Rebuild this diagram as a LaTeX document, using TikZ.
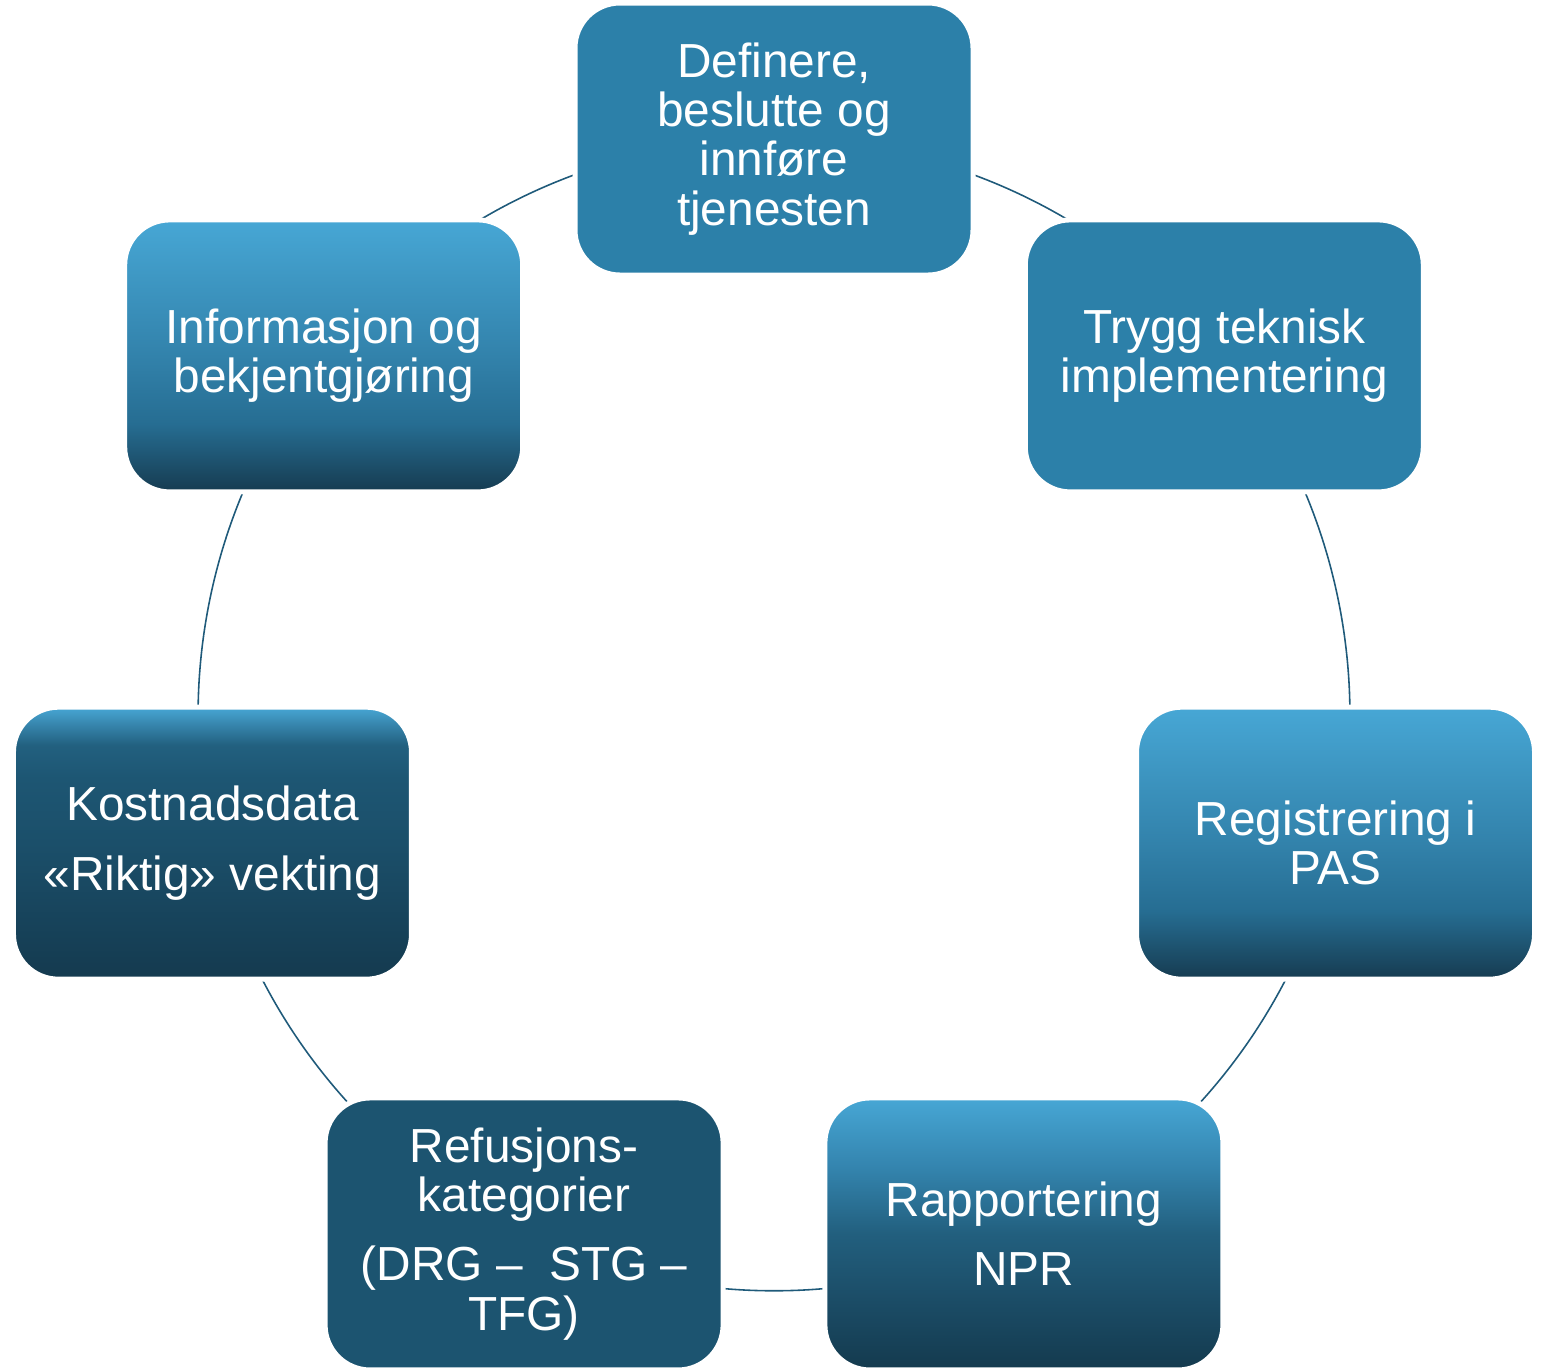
\documentclass[tikz,border=0pt]{standalone}
\usepackage{fontspec}
\setmainfont{Liberation Sans}
\usepackage{tikz}
\usetikzlibrary{backgrounds}

\definecolor{boxsolid}{HTML}{2C80A9}
\definecolor{boxdeep}{HTML}{1C5470}
\definecolor{ringline}{HTML}{1F5A7A}
\definecolor{fadetop}{HTML}{47A7D5}
% slow fade
\definecolor{slowa}{HTML}{163B50}
\definecolor{slowb}{HTML}{266D92}
\definecolor{slowc}{HTML}{3282AB}
% medium fade
\definecolor{mida}{HTML}{143A4E}
\definecolor{midb}{HTML}{1B4C66}
\definecolor{midc}{HTML}{225F7E}
\definecolor{midd}{HTML}{3485AF}
% fast fade
\definecolor{fasta}{HTML}{143A4F}
\definecolor{fastb}{HTML}{1B4F6A}
\definecolor{fastc}{HTML}{1D5673}
\definecolor{fastd}{HTML}{22607F}
\definecolor{faste}{HTML}{3887AF}

\pgfdeclareverticalshading{fadeslow}{100bp}{color(0bp)=(slowa); color(25bp)=(slowa); color(37.5bp)=(slowb); color(50bp)=(slowc); color(75bp)=(fadetop); color(100bp)=(fadetop)}
\pgfdeclareverticalshading{fademid}{100bp}{color(0bp)=(mida); color(25bp)=(mida); color(37.5bp)=(midb); color(50bp)=(midc); color(62.5bp)=(midd); color(75bp)=(fadetop); color(100bp)=(fadetop)}
\pgfdeclareverticalshading{fadefast}{100bp}{color(0bp)=(fasta); color(25bp)=(fasta); color(50bp)=(fastb); color(62bp)=(fastc); color(68bp)=(fastd); color(72bp)=(faste); color(75bp)=(fadetop); color(100bp)=(fadetop)}

\begin{document}
\begin{tikzpicture}[
    stage/.style={rounded corners=0.45cm, minimum width=3.98cm, minimum height=2.72cm,
      draw=white, line width=0.05cm, text=white, align=center,
      font=\fontsize{13.6pt}{14pt}\selectfont},
    ring/.style={draw=ringline, line width=0.45pt},
    arc/.style={bend left=25.714, looseness=0.896}
  ]
  \useasboundingbox (0,0) rectangle (15.47,-13.67);
  \coordinate (hub) at (7.74,-7.15);

  \node[stage, fill=boxsolid] (define) at ([shift={(90:5.76)}]hub) {Definere,\\beslutte og\\innføre\\tjenesten};
  \node[stage, fill=boxsolid] (secure) at ([shift={(38.571:5.76)}]hub) {Trygg teknisk\\implementering};
  \node[stage, shade, shading=fadeslow] (register) at ([shift={(-12.857:5.76)}]hub) {Registrering i\\PAS};
  \node[stage, shade, shading=fademid] (report) at ([shift={(-64.286:5.76)}]hub) {Rapportering\\[0.2cm]NPR};
  \node[stage, fill=boxdeep] (refund) at ([shift={(-115.714:5.76)}]hub) {Refusjons-\\kategorier\\[0.2cm](DRG –\ \ STG –\\TFG)};
  \node[stage, shade, shading=fadefast] (cost) at ([shift={(-167.143:5.76)}]hub) {Kostnadsdata\\[0.2cm]«Riktig» vekting};
  \node[stage, shade, shading=fadeslow] (inform) at ([shift={(141.429:5.76)}]hub) {Informasjon og\\bekjentgjøring};

  \begin{scope}[on background layer]
    \draw[ring] (define.center) to[arc] (secure.center);
    \draw[ring] (secure.center) to[arc] (register.center);
    \draw[ring] (register.center) to[arc] (report.center);
    \draw[ring] (report.center) to[arc] (refund.center);
    \draw[ring] (refund.center) to[arc] (cost.center);
    \draw[ring] (cost.center) to[arc] (inform.center);
    \draw[ring] (inform.center) to[arc] (define.center);
  \end{scope}
\end{tikzpicture}
\end{document}
